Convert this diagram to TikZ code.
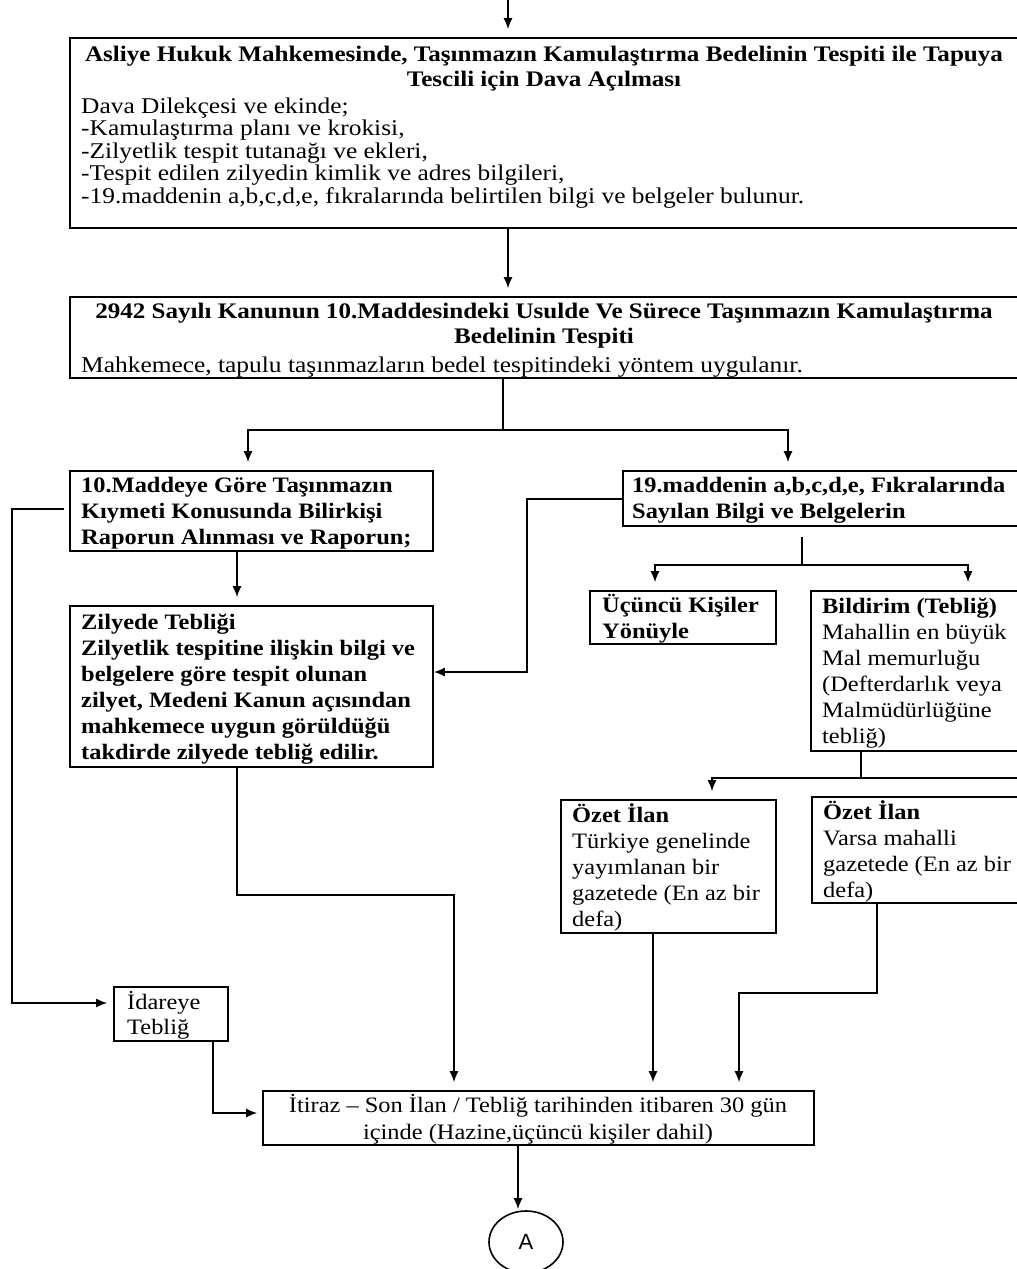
\documentclass[tikz,border=0pt]{standalone}
\usepackage{fontspec}
\setmainfont{Liberation Serif}
\newfontfamily\fTop[FakeStretch=1.13]{Liberation Serif}
\newfontfamily\fLow[FakeStretch=1.11]{Liberation Serif}
\newfontfamily\fSans{Liberation Sans}
\usetikzlibrary{arrows.meta,fit,shapes.geometric}
\newcommand\fstr{\rule{0pt}{22pt}}
\begin{document}
\begin{tikzpicture}[x=1pt,y=-1pt,
  box/.style={draw, line width=1.6pt, inner sep=0pt},
  tl/.style={inner sep=0pt, anchor=north west, align=left},
  tc/.style={inner sep=0pt, anchor=north, align=center},
  ftop/.style={font=\fTop\fontsize{22.5}{22.5}\selectfont},
  ftitle/.style={font=\fTop\bfseries\fontsize{22.2}{25.5}\selectfont},
  flow/.style={font=\fLow\fontsize{22}{26}\selectfont},
  ln/.style={line width=1.6pt},
  arr/.style={ln, -{Latex[length=11pt,width=9pt]}, shorten >=8pt}]
\useasboundingbox (0,0) rectangle (1017,1269);

% boxes
\node[box, fit={(70,38)(1022,228)}] (b1) {};
\node[box, fit={(70,297)(1022,378)}] (b2) {};
\node[box, fit={(70,471)(433,551)}] (b3) {};
\node[box, fit={(623,471)(1022,526)}] (b4) {};
\node[box, fit={(70,606)(433,767)}] (b5) {};
\node[box, fit={(590,591)(776,644)}] (b6) {};
\node[box, fit={(811,591)(1022,751)}] (b7) {};
\node[box, fit={(561,800)(776,933)}] (b8) {};
\node[box, fit={(812,797)(1022,903)}] (b9) {};
\node[box, fit={(114,987)(228,1041)}] (b10) {};
\node[box, fit={(263,1091)(814,1145)}] (b11) {};
\node[draw, ellipse, line width=1.6pt, inner sep=0pt, minimum width=74pt, minimum height=62pt,
      font=\fSans\fontsize{22}{24}\selectfont] (A) at (526,1242) {A};

% texts
\node[tc, ftitle] (t1a) at (544,39) {\fstr Asliye Hukuk Mahkemesinde, Taşınmazın Kamulaştırma Bedelinin Tespiti ile Tapuya\\Tescili için Dava Açılması};
\node[tl, ftop] (t1b) at (81,91) {\fstr Dava Dilekçesi ve ekinde;\\-Kamulaştırma planı ve krokisi,\\-Zilyetlik tespit tutanağı ve ekleri,\\-Tespit edilen zilyedin kimlik ve adres bilgileri,\\-19.maddenin a,b,c,d,e, fıkralarında belirtilen bilgi ve belgeler bulunur.};
\node[tc, ftitle] (t2a) at (544,296) {\fstr 2942 Sayılı Kanunun 10.Maddesindeki Usulde Ve Sürece Taşınmazın Kamulaştırma\\Bedelinin Tespiti};
\node[tl, ftop] (t2b) at (81,350) {\fstr Mahkemece, tapulu taşınmazların bedel tespitindeki yöntem uygulanır.};
\node[tl, flow] (t3) at (81,470) {\fstr\bfseries 10.Maddeye Göre Taşınmazın\\\bfseries Kıymeti Konusunda Bilirkişi\\\bfseries Raporun Alınması ve Raporun;};
\node[tl, flow] (t4) at (632,470) {\fstr\bfseries 19.maddenin a,b,c,d,e, Fıkralarında\\\bfseries Sayılan Bilgi ve Belgelerin};
\node[tl, flow] (t5) at (81,607) {\fstr\bfseries Zilyede Tebliği\\\bfseries Zilyetlik tespitine ilişkin bilgi ve\\\bfseries belgelere göre tespit olunan\\\bfseries zilyet, Medeni Kanun açısından\\\bfseries mahkemece uygun görüldüğü\\\bfseries takdirde zilyede tebliğ edilir.};
\node[tl, flow] (t6) at (602,590) {\fstr\bfseries Üçüncü Kişiler\\\bfseries Yönüyle};
\node[tl, flow] (t7) at (822,591) {\fstr\textbf{Bildirim (Tebliğ)}\\Mahallin en büyük\\Mal memurluğu\\(Defterdarlık veya\\Malmüdürlüğüne\\tebliğ)};
\node[tl, flow] (t8) at (572,800) {\fstr\textbf{Özet İlan}\\Türkiye genelinde\\yayımlanan bir\\gazetede (En az bir\\defa)};
\node[tl, flow] (t9) at (823,797) {\fstr\textbf{Özet İlan}\\Varsa mahalli\\gazetede (En az bir\\defa)};
\node[tl, font=\fLow\fontsize{22}{25}\selectfont] (t10) at (127,987) {\fstr İdareye\\Tebliğ};
\node[tc, font=\fLow\fontsize{22}{27}\selectfont] (t11) at (538,1090) {\fstr İtiraz – Son İlan / Tebliğ tarihinden itibaren 30 gün\\içinde (Hazine,üçüncü kişiler dahil)};

% helper coordinates
\coordinate (xa) at (508,0);
\coordinate (ja) at (503,430);
\coordinate (xl) at (248,0);
\coordinate (xr) at (788,0);
\coordinate (xz) at (237,0);
\coordinate (k1) at (527,499);
\coordinate (k2) at (527,672);
\coordinate (m1) at (12,509);
\coordinate (m2) at (12,1003);
\coordinate (j2) at (802,565);
\coordinate (xu) at (655,0);
\coordinate (xb) at (968,0);
\coordinate (j3) at (861,778);
\coordinate (xo) at (712,0);
\coordinate (xo2) at (1035,0);
\coordinate (xo1) at (653,0);
\coordinate (z1) at (237,895);
\coordinate (z2) at (454,895);
\coordinate (q1) at (877,993);
\coordinate (q2) at (739,993);
\coordinate (i1) at (213,1113);
\coordinate (xA) at (518,0);

% connectors
\draw[arr] (xa) -- (b1.north -| xa);
\draw[arr] (b1.south -| xa) -- (b2.north -| xa);
\draw[ln] (b2.south -| ja) -- (ja);
\draw[arr] (ja) -| (b3.north -| xl);
\draw[arr] (ja) -| (b4.north -| xr);
\draw[arr] (b3.south -| xz) -- (b5.north -| xz);
\draw[arr, shorten >=0pt] (b4.west |- k1) -- (k1) -- (k2) -- (b5.east |- k2);
\draw[arr, shorten >=6pt] ([xshift=-5pt]b3.west |- m1) -- (m1) -- (m2) -- (b10.west |- m2);
\draw[ln, shorten <=10pt] (b4.south -| j2) -- (j2);
\draw[arr] (j2) -| (b6.north -| xu);
\draw[arr] (j2) -| (b7.north -| xb);
\draw[ln] (b7.south -| j3) -- (j3);
\draw[arr] (j3) -| (b8.north -| xo);
\draw[arr] (j3) -| (b9.north -| xo2);
\draw[arr] (b8.south -| xo1) -- (b11.north -| xo1);
\draw[arr] (b5.south -| z1) -- (z1) -- (z2) -- (b11.north -| z2);
\draw[arr] (b9.south -| q1) -- (q1) -- (q2) -- (b11.north -| q2);
\draw[arr, shorten >=5pt] (b10.south -| i1) -- (i1) -- (b11.west |- i1);
\draw[arr, shorten >=1pt] (b11.south -| xA) -- (A.north -| xA);
\end{tikzpicture}
\end{document}
